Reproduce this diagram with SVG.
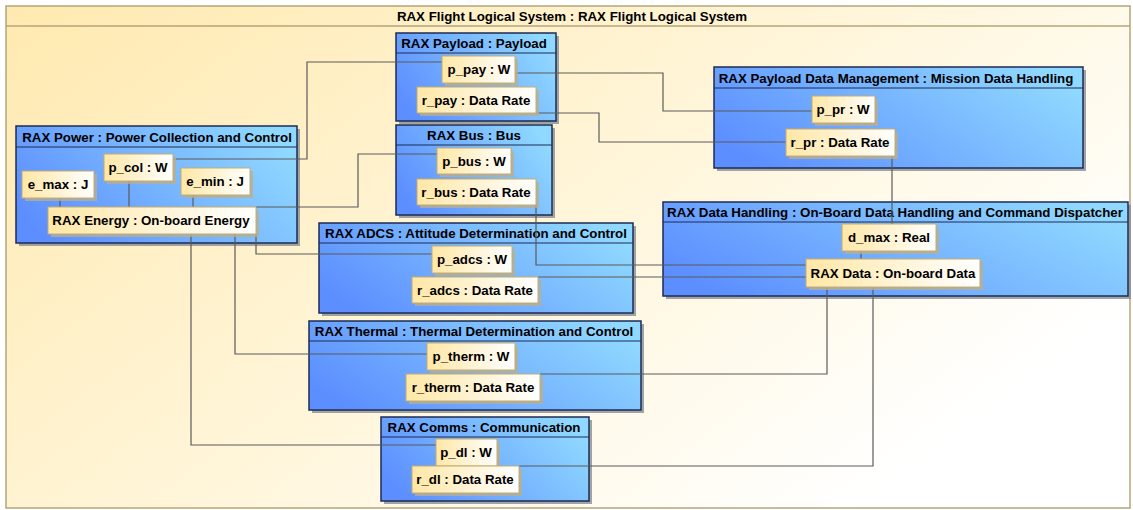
<svg xmlns="http://www.w3.org/2000/svg" width="1133" height="510" viewBox="0 0 1133 510">
  <defs>
    <linearGradient id="frameFill" x1="0" y1="0" x2="1" y2="0.6">
      <stop offset="0" stop-color="#FFE9AF"/>
      <stop offset="0.55" stop-color="#FFF5D9"/>
      <stop offset="1" stop-color="#FFFFFF"/>
    </linearGradient>
    <linearGradient id="blockFill" x1="0" y1="0.7" x2="1" y2="0.3">
      <stop offset="0" stop-color="#5C8EFF"/>
      <stop offset="1" stop-color="#8FD8FF"/>
    </linearGradient>
    <linearGradient id="portFill" x1="0" y1="0" x2="1" y2="0">
      <stop offset="0" stop-color="#FFE7A6"/>
      <stop offset="1" stop-color="#FFFFFF"/>
    </linearGradient>
    <style>
      text { font-family: "Liberation Sans", Arial, sans-serif; font-weight: bold; font-size: 13.3px; fill: #000; }
      .frame { fill: url(#frameFill); stroke: #B4A57A; stroke-width: 1.5; }
      .frameSep { stroke: #B4A57A; stroke-width: 1.5; }
      .block { fill: url(#blockFill); stroke: #1E2B52; stroke-width: 1.5; }
      .blockShadow { fill: #7F8791; opacity: 0.75; }
      .sep { stroke: #1E2B52; stroke-width: 1; }
      .port { fill: url(#portFill); stroke: #C3AC6E; stroke-width: 1; }
      .portShadow { fill: #B8AE92; opacity: 0.8; }
      .conn { fill: none; stroke: #5A5A5A; stroke-width: 1.2; }
      .mid { text-anchor: middle; }
    </style>
  </defs>

  <!-- enclosing system frame -->
  <g id="system">
    <rect class="frame" x="6" y="6" width="1124" height="502"/>
    <line class="frameSep" x1="6" y1="26" x2="1130" y2="26"/>
    <text class="mid" x="572" y="21">RAX Flight Logical System : RAX Flight Logical System</text>
  </g>

  <!-- part blocks -->
  <g id="payload">
    <rect class="blockShadow" x="399" y="36" width="160" height="88"/>
    <rect class="block" x="396" y="33" width="160" height="88"/>
    <line class="sep" x1="396" y1="53" x2="556" y2="53"/>
    <text class="mid" x="474" y="48">RAX Payload : Payload</text>
  </g>
  <g id="bus">
    <rect class="blockShadow" x="399" y="128" width="156" height="90"/>
    <rect class="block" x="396" y="125" width="156" height="90"/>
    <line class="sep" x1="396" y1="145" x2="552" y2="145"/>
    <text class="mid" x="474" y="140">RAX Bus : Bus</text>
  </g>
  <g id="payload-data-management">
    <rect class="blockShadow" x="717" y="70" width="369" height="101"/>
    <rect class="block" x="714" y="67" width="369" height="101"/>
    <line class="sep" x1="714" y1="88" x2="1083" y2="88"/>
    <text class="mid" x="896" y="83">RAX Payload Data Management : Mission Data Handling</text>
  </g>
  <g id="power">
    <rect class="blockShadow" x="19" y="129" width="281" height="117"/>
    <rect class="block" x="16" y="126" width="281" height="117"/>
    <line class="sep" x1="16" y1="147" x2="297" y2="147"/>
    <text class="mid" x="157" y="142">RAX Power : Power Collection and Control</text>
  </g>
  <g id="adcs">
    <rect class="blockShadow" x="322" y="226" width="314" height="90"/>
    <rect class="block" x="319" y="223" width="314" height="90"/>
    <line class="sep" x1="319" y1="243" x2="633" y2="243"/>
    <text class="mid" x="476" y="238">RAX ADCS : Attitude Determination and Control</text>
  </g>
  <g id="data-handling">
    <rect class="blockShadow" x="666" y="205" width="465" height="94"/>
    <rect class="block" x="663" y="202" width="465" height="94"/>
    <line class="sep" x1="663" y1="222" x2="1128" y2="222"/>
    <text class="mid" x="895" y="217">RAX Data Handling : On-Board Data Handling and Command Dispatcher</text>
  </g>
  <g id="thermal">
    <rect class="blockShadow" x="312" y="324" width="332" height="89"/>
    <rect class="block" x="309" y="321" width="332" height="89"/>
    <line class="sep" x1="309" y1="341" x2="641" y2="341"/>
    <text class="mid" x="474" y="336">RAX Thermal : Thermal Determination and Control</text>
  </g>
  <g id="comms">
    <rect class="blockShadow" x="384" y="420" width="208" height="84"/>
    <rect class="block" x="381" y="417" width="208" height="84"/>
    <line class="sep" x1="381" y1="437" x2="589" y2="437"/>
    <text class="mid" x="484" y="432">RAX Comms : Communication</text>
  </g>

  <!-- connectors -->
  <g id="connectors">
    <path class="conn" d="M60,198 V207"/>
    <path class="conn" d="M129,181 V207"/>
    <path class="conn" d="M193,195 V207"/>
    <path class="conn" d="M861,251 V259"/>
    <path class="conn" d="M173,159 H307 V62 H442"/>
    <path class="conn" d="M515,73 H663 V111 H812"/>
    <path class="conn" d="M536,113 H599 V142 H786"/>
    <path class="conn" d="M892,156 V224"/>
    <path class="conn" d="M256,207 H358 V154 H437"/>
    <path class="conn" d="M256,234 V254 H432"/>
    <path class="conn" d="M235,234 V354 H427"/>
    <path class="conn" d="M191,234 V445 H436"/>
    <path class="conn" d="M536,205 V265 H806"/>
    <path class="conn" d="M538,277 H806"/>
    <path class="conn" d="M827,287 V374 H540"/>
    <path class="conn" d="M873,287 V466 H519"/>
  </g>

  <!-- ports and properties -->
  <g id="p_pay">
    <rect class="portShadow" x="445" y="59" width="73" height="27"/>
    <rect class="port" x="442" y="56" width="73" height="27"/>
    <text class="mid" x="479" y="74">p_pay : W</text>
  </g>
  <g id="r_pay">
    <rect class="portShadow" x="420" y="90" width="119" height="26"/>
    <rect class="port" x="417" y="87" width="119" height="26"/>
    <text class="mid" x="476" y="105">r_pay : Data Rate</text>
  </g>
  <g id="p_pr">
    <rect class="portShadow" x="815" y="99" width="63" height="27"/>
    <rect class="port" x="812" y="96" width="63" height="27"/>
    <text class="mid" x="843" y="114">p_pr : W</text>
  </g>
  <g id="r_pr">
    <rect class="portShadow" x="789" y="132" width="109" height="27"/>
    <rect class="port" x="786" y="129" width="109" height="27"/>
    <text class="mid" x="840" y="147">r_pr : Data Rate</text>
  </g>
  <g id="p_col">
    <rect class="portShadow" x="107" y="157" width="69" height="27"/>
    <rect class="port" x="104" y="154" width="69" height="27"/>
    <text class="mid" x="138" y="172">p_col : W</text>
  </g>
  <g id="e_max">
    <rect class="portShadow" x="25" y="174" width="72" height="27"/>
    <rect class="port" x="22" y="171" width="72" height="27"/>
    <text class="mid" x="58" y="189">e_max : J</text>
  </g>
  <g id="e_min">
    <rect class="portShadow" x="184" y="171" width="69" height="27"/>
    <rect class="port" x="181" y="168" width="69" height="27"/>
    <text class="mid" x="215" y="186">e_min : J</text>
  </g>
  <g id="rax-energy">
    <rect class="portShadow" x="51" y="210" width="208" height="27"/>
    <rect class="port" x="48" y="207" width="208" height="27"/>
    <text class="mid" x="151" y="225">RAX Energy : On-board Energy</text>
  </g>
  <g id="p_bus">
    <rect class="portShadow" x="440" y="151" width="74" height="26"/>
    <rect class="port" x="437" y="148" width="74" height="26"/>
    <text class="mid" x="474" y="166">p_bus : W</text>
  </g>
  <g id="r_bus">
    <rect class="portShadow" x="420" y="182" width="119" height="26"/>
    <rect class="port" x="417" y="179" width="119" height="26"/>
    <text class="mid" x="476" y="197">r_bus : Data Rate</text>
  </g>
  <g id="p_adcs">
    <rect class="portShadow" x="435" y="249" width="80" height="27"/>
    <rect class="port" x="432" y="246" width="80" height="27"/>
    <text class="mid" x="472" y="264">p_adcs : W</text>
  </g>
  <g id="r_adcs">
    <rect class="portShadow" x="415" y="280" width="126" height="26"/>
    <rect class="port" x="412" y="277" width="126" height="26"/>
    <text class="mid" x="475" y="295">r_adcs : Data Rate</text>
  </g>
  <g id="d_max">
    <rect class="portShadow" x="845" y="227" width="94" height="27"/>
    <rect class="port" x="842" y="224" width="94" height="27"/>
    <text class="mid" x="889" y="242">d_max : Real</text>
  </g>
  <g id="rax-data">
    <rect class="portShadow" x="809" y="262" width="174" height="28"/>
    <rect class="port" x="806" y="259" width="174" height="28"/>
    <text class="mid" x="893" y="278">RAX Data : On-board Data</text>
  </g>
  <g id="p_therm">
    <rect class="portShadow" x="430" y="346" width="88" height="27"/>
    <rect class="port" x="427" y="343" width="88" height="27"/>
    <text class="mid" x="471" y="361">p_therm : W</text>
  </g>
  <g id="r_therm">
    <rect class="portShadow" x="409" y="377" width="134" height="27"/>
    <rect class="port" x="406" y="374" width="134" height="27"/>
    <text class="mid" x="473" y="392">r_therm : Data Rate</text>
  </g>
  <g id="p_dl">
    <rect class="portShadow" x="439" y="442" width="61" height="27"/>
    <rect class="port" x="436" y="439" width="61" height="27"/>
    <text class="mid" x="466" y="457">p_dl : W</text>
  </g>
  <g id="r_dl">
    <rect class="portShadow" x="415" y="469" width="107" height="27"/>
    <rect class="port" x="412" y="466" width="107" height="27"/>
    <text class="mid" x="465" y="484">r_dl : Data Rate</text>
  </g>
</svg>
